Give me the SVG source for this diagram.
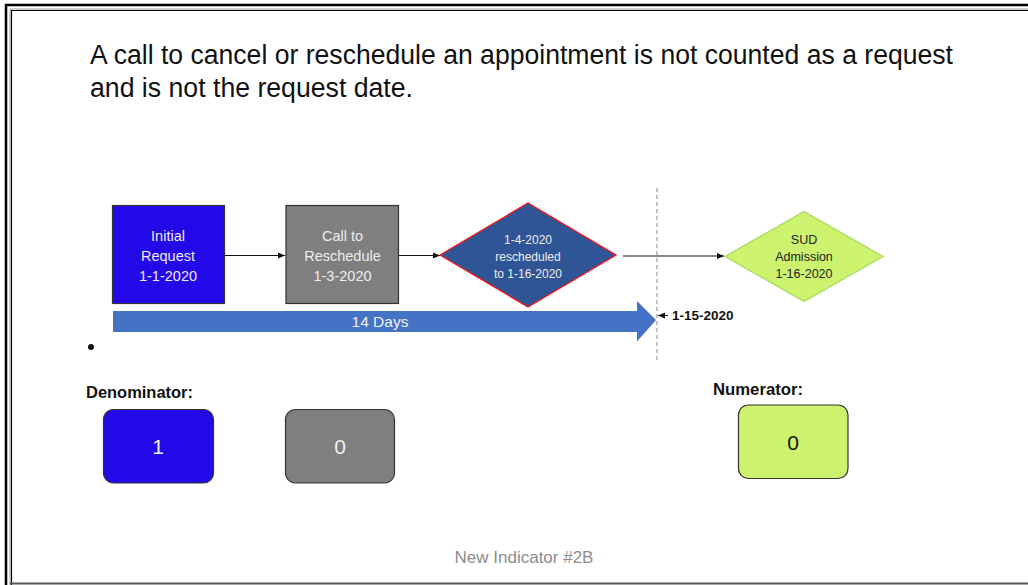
<svg xmlns="http://www.w3.org/2000/svg" width="1028" height="585" viewBox="0 0 1028 585">
<style>
text{font-family:"Liberation Sans",Arial,sans-serif}
.lt{fill:#EDEDED;font-size:14.5px;text-anchor:middle}
.sm{fill:#EDEDED;font-size:12px;text-anchor:middle}
.dk{fill:#222;font-size:12.5px;text-anchor:middle}
.lbl{fill:#111;font-size:16px;font-weight:bold}
.num{font-size:21px;text-anchor:middle}
.conn{stroke:#111;stroke-width:1;fill:none;marker-end:url(#ah)}
</style>
<defs>
<marker id="ah" markerWidth="8" markerHeight="8" refX="7" refY="4" orient="auto" markerUnits="userSpaceOnUse">
<path d="M0,1 L7,4 L0,7 Z" fill="#111"/>
</marker>
</defs>
<rect width="1028" height="585" fill="#fff"/>
<g id="frame" fill="none">
<path d="M6,585 V5 H1028" stroke="#000" stroke-width="2.5"/>
<path d="M10,585 V9 H1028" stroke="#9a9a9a" stroke-width="1"/>
<path d="M11.5,585 V10.5 H1028" stroke="#000" stroke-width="1.2"/>
<path d="M10,583.5 H1028" stroke="#555" stroke-width="2"/>
</g>
<g id="title" fill="#111" font-size="27">
<text x="90" y="64" textLength="863" lengthAdjust="spacingAndGlyphs">A call to cancel or reschedule an appointment is not counted as a request</text>
<text x="90" y="97" textLength="323" lengthAdjust="spacingAndGlyphs">and is not the request date.</text>
</g>
<g id="timeline">
<line x1="657" y1="188" x2="657" y2="362" stroke="#888" stroke-width="1" stroke-dasharray="4,3"/>
</g>
<g id="connectors">
<line class="conn" x1="225" y1="255.5" x2="285" y2="255.5"/>
<line class="conn" x1="399" y1="255.5" x2="440" y2="255.5"/>
<line class="conn" x1="623" y1="256" x2="724" y2="256"/>
<line class="conn" x1="668" y1="315.5" x2="658" y2="315.5"/>
</g>
<g id="initial-request">
<rect x="112.5" y="205.5" width="112" height="98" fill="#2308E8" stroke="#333" stroke-width="1.2"/>
<text class="lt" x="168" y="241">Initial</text>
<text class="lt" x="168" y="261">Request</text>
<text class="lt" x="168" y="281">1-1-2020</text>
</g>
<g id="call-reschedule">
<rect x="286" y="205.5" width="112.5" height="98" fill="#7F7F7F" stroke="#333" stroke-width="1.2"/>
<text class="lt" x="342.5" y="241">Call to</text>
<text class="lt" x="342.5" y="261">Reschedule</text>
<text class="lt" x="342.5" y="281">1-3-2020</text>
</g>
<g id="rescheduled">
<polygon points="440,255 528,203 616,255 528,307" fill="#2F5597" stroke="#FF1010" stroke-width="1.3"/>
<text class="sm" x="528" y="244">1-4-2020</text>
<text class="sm" x="528" y="261">rescheduled</text>
<text class="sm" x="528" y="278">to 1-16-2020</text>
</g>
<g id="sud-admission">
<polygon points="725,256.5 804,211.5 883,256.5 804,301.5" fill="#CCF26E" stroke="#A9DA60" stroke-width="1.3"/>
<text class="dk" x="804" y="244">SUD</text>
<text class="dk" x="804" y="261">Admission</text>
<text class="dk" x="804" y="278">1-16-2020</text>
</g>
<g id="days-arrow">
<polygon points="113,311 637,311 637,301 656,320 637,341.5 637,332 113,332" fill="#4472C4"/>
<text x="380" y="327" fill="#F2F2F2" font-size="15.5" text-anchor="middle">14 Days</text>
</g>
<g id="date-label">
<text x="672" y="320" fill="#111" font-size="13.5" font-weight="bold">1-15-2020</text>
</g>
<circle cx="91" cy="347" r="3" fill="#111"/>
<g id="denominator">
<text class="lbl" x="86" y="398" textLength="107" lengthAdjust="spacingAndGlyphs">Denominator:</text>
<rect x="103.5" y="409.5" width="110" height="73.5" rx="10" fill="#2308E8" stroke="#333" stroke-width="1.2"/>
<text class="num" x="158" y="454" fill="#F0F0F0">1</text>
<rect x="285.5" y="409.5" width="109" height="73.5" rx="10" fill="#7F7F7F" stroke="#333" stroke-width="1.2"/>
<text class="num" x="340" y="454" fill="#F0F0F0">0</text>
</g>
<g id="numerator">
<text class="lbl" x="713" y="395" textLength="90" lengthAdjust="spacingAndGlyphs">Numerator:</text>
<rect x="738.5" y="405" width="109.5" height="73.5" rx="10" fill="#CCF26E" stroke="#333" stroke-width="1.2"/>
<text class="num" x="793" y="450" fill="#111">0</text>
</g>
<text id="footer" x="524" y="563" fill="#8C8C8C" font-size="17" text-anchor="middle">New Indicator #2B</text>
</svg>
